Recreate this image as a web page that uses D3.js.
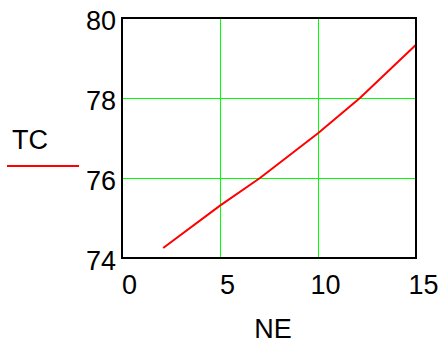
<!DOCTYPE html>
<meta charset="utf-8">
<script src="https://d3js.org/d3.v7.min.js"></script>
<style>
  body { margin: 0; background: #fff; }
  text { font-family: "Liberation Sans", Arial, sans-serif; }
</style>
<div id="chart"></div>
<script>

// data
var ne = [2.1, 5, 7.04, 10, 12.14, 15];
var tc = [74.25, 75.31, 76, 77.12, 78, 79.33];
var xTicks = [0, 5, 10, 15];
var yTicks = [74, 76, 78, 80];

var width = 443, height = 347;
var margin = {top: 18, right: 27, bottom: 89, left: 122};

var svg = d3.select("#chart").append("svg")
    .attr("width", width)
    .attr("height", height);

var x = d3.scaleLinear().domain([0, 15]).range([margin.left, width - margin.right]);
var y = d3.scaleLinear().domain([74, 80]).range([height - margin.bottom, margin.top]);

// grid lines
svg.append("g")
  .selectAll("line.gx")
  .data(xTicks.slice(1, -1))
  .enter().append("line")
    .attr("x1", function(d) { return Math.round(x(d)) + 0.5 }).attr("x2", function(d) { return Math.round(x(d)) + 0.5 })
    .attr("y1", y(80)).attr("y2", y(74))
    .attr("stroke", "#00ff00").attr("stroke-width", 1);

svg.append("g")
  .selectAll("line.gy")
  .data(yTicks.slice(1, -1))
  .enter().append("line")
    .attr("x1", x(0)).attr("x2", x(15))
    .attr("y1", function(d) { return Math.round(y(d)) + 0.5 }).attr("y2", function(d) { return Math.round(y(d)) + 0.5 })
    .attr("stroke", "#00ff00").attr("stroke-width", 1);

// the curve
svg.append("path")
  .datum(ne.map(function(d, i) { return [d, tc[i]] }))
  .attr("d", d3.line()
    .x(function(d) { return x(d[0]) })
    .y(function(d) { return y(d[1]) }))
  .attr("fill", "none")
  .attr("stroke", "#ff0000")
  .attr("stroke-width", 2);

// frame
svg.append("rect")
  .attr("x", x(0)).attr("y", y(80))
  .attr("width", x(15) - x(0)).attr("height", y(74) - y(80))
  .attr("fill", "none").attr("stroke", "#000").attr("stroke-width", 2);

// axes, only the labels
var xAxis = svg.append("g")
  .attr("transform", "translate(0," + y(74) + ")")
  .call(d3.axisBottom(x).tickValues(xTicks).tickFormat(d3.format("d")).tickSize(0).tickPadding(0));
xAxis.select(".domain").remove();
xAxis.selectAll("text")
  .attr("dy", null).attr("y", 36).attr("dx", 7)
  .style("font-size", "27px").attr("fill", "#000");

var yAxis = svg.append("g")
  .attr("transform", "translate(" + x(0) + ",0)")
  .call(d3.axisLeft(y).tickValues(yTicks).tickFormat(d3.format("d")).tickSize(0).tickPadding(0));
yAxis.select(".domain").remove();
yAxis.selectAll("text")
  .attr("x", -6).attr("dy", "0.42em")
  .style("font-size", "27px").attr("fill", "#000");

// axis titles
svg.append("text")
  .attr("x", 273).attr("y", 338)
  .attr("text-anchor", "middle")
  .style("font-size", "27px")
  .text("NE");

svg.append("text")
  .attr("x", 12).attr("y", 149)
  .style("font-size", "27px")
  .text("TC");

svg.append("line")
  .attr("x1", 7).attr("x2", 79)
  .attr("y1", 166).attr("y2", 166)
  .attr("stroke", "#ff0000").attr("stroke-width", 2);

</script>
